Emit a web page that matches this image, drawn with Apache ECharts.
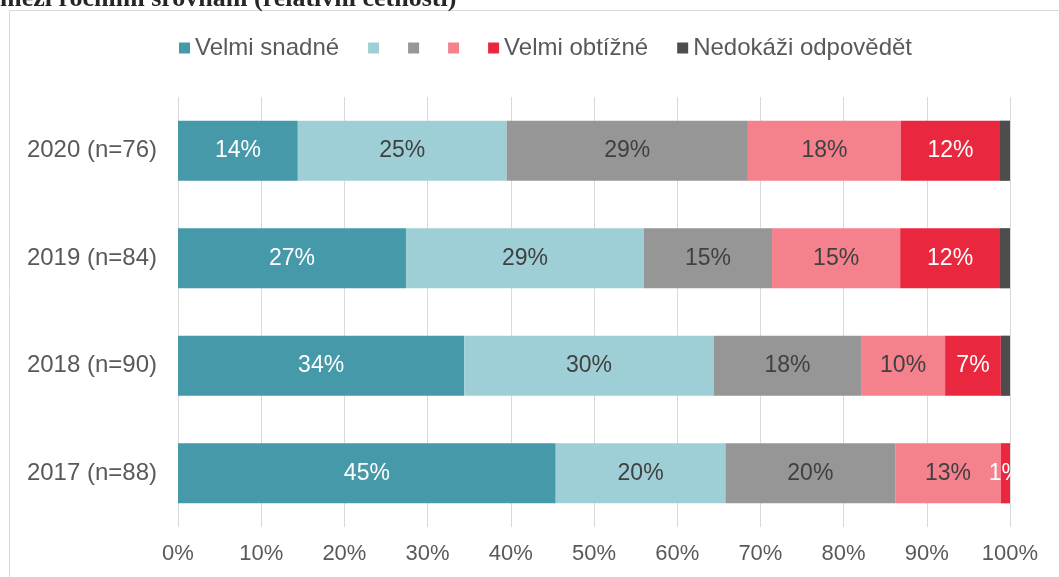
<!DOCTYPE html>
<html>
<head>
<meta charset="utf-8">
<script src="https://cdn.jsdelivr.net/npm/echarts@6/dist/echarts.min.js"></script>
<style>
  html, body { margin: 0; padding: 0; background: #fff; }
  #chart { width: 1059px; height: 577px; }
</style>
</head>
<body>
<div id="chart"></div>
<script>
// roky (odshora dolu v grafu)
var categories = ['2017 (n=88)', '2018 (n=90)', '2019 (n=84)', '2020 (n=76)']
var seriesNames = ['Velmi snadné', 's2', 's3', 's4', 'Velmi obtížné', 'Nedokáži odpovědět']
var velmiSnadne = [45.4, 34.4, 27.4, 14.4]
var spiseSnadne = [20.4, 30.0, 28.6, 25.1]
var stredni = [20.4, 17.7, 15.4, 29.0]
var spiseObtizne = [12.7, 10.1, 15.4, 18.4]
var velmiObtizne = [1.1, 6.7, 12.0, 11.9]
var nedokazi = [0, 1.1, 1.2, 1.2]
var xTicks = [0, 10, 20, 30, 40, 50, 60, 70, 80, 90, 100]

var colors = ['#4599a8', '#9fcfd6', '#969696', '#f4818c', '#e9283f', '#4d4d4d']
var labelColors = ['#ffffff', '#404040', '#404040', '#404040', '#ffffff', null]
var values = [velmiSnadne, spiseSnadne, stredni, spiseObtizne, velmiObtizne, nedokazi]

var font = 'Liberation Sans, Arial, sans-serif'

var series = seriesNames.map(function (name, i) {
  return {
    name: name,
    type: 'bar',
    stack: 'total',
    barWidth: '56%',
    data: values[i],
    itemStyle: { color: colors[i] },
    label: {
      show: labelColors[i] !== null,
      position: 'inside',
      color: labelColors[i] || '#fff',
      fontFamily: font,
      fontSize: 23,
      formatter: function (p) { return Math.round(p.value) + '%' }
    }
  }
})

var myChart = echarts.init(document.getElementById('chart'))
myChart.setOption({
  animation: false,
  textStyle: { fontFamily: font },
  graphic: [
    {
      type: 'rect',
      shape: { x: 9.5, y: 10.5, width: 1200, height: 800 },
      style: { fill: 'none', stroke: '#d9d9d9', lineWidth: 1 },
      silent: true
    },
    {
      type: 'text',
      style: {
        text: 'mezi ročními srovnání (relativní četnosti)',
        x: 0,
        y: 12,
        verticalAlign: 'bottom',
        font: 'bold 26px "Liberation Serif", "DejaVu Serif", serif',
        fill: '#262626'
      },
      silent: true
    }
  ],
  legend: {
    top: 31,
    left: 174,
    itemWidth: 11,
    itemHeight: 11,
    itemGap: 29,
    icon: 'rect',
    data: seriesNames,
    selectedMode: false,
    formatter: function (name) { return /^s\d$/.test(name) ? '' : name },
    textStyle: { color: '#595959', fontSize: 24, fontFamily: font }
  },
  grid: { left: 178, right: 49, top: 97, bottom: 50, containLabel: false },
  xAxis: {
    type: 'value',
    min: 0,
    max: 100,
    interval: 10,
    axisLine: { show: false },
    axisTick: { show: false },
    splitLine: { show: true, lineStyle: { color: '#d9d9d9', width: 1 } },
    axisLabel: {
      color: '#595959',
      fontSize: 22,
      margin: 16,
      fontFamily: font,
      formatter: function (v) { return xTicks.indexOf(v) >= 0 ? v + '%' : '' }
    }
  },
  yAxis: {
    type: 'category',
    data: categories,
    axisLine: { show: false },
    axisTick: { show: false },
    axisLabel: { color: '#595959', fontSize: 24, margin: 21, fontFamily: font }
  },
  series: series
})
</script>
</body>
</html>
